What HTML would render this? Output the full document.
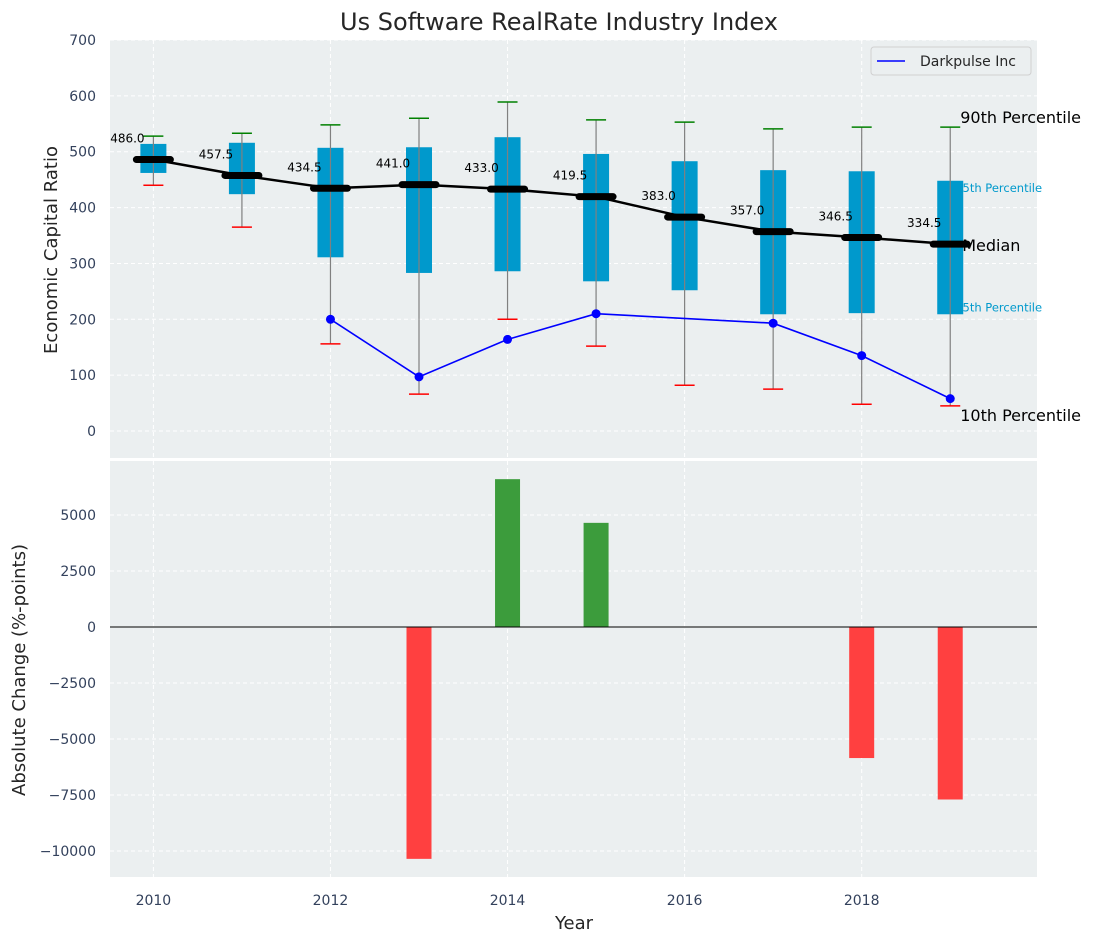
<!DOCTYPE html>
<html><head><meta charset="utf-8"><style>
body{margin:0;background:#fff;}
svg{display:block;font-family:"DejaVu Sans","Liberation Sans",sans-serif;}
</style></head><body>
<svg id="c" width="1095" height="942" xmlns="http://www.w3.org/2000/svg"></svg>
<script>
const years=[2010,2011,2012,2013,2014,2015,2016,2017,2018,2019];
const p10=[440,365,156,66,200,152,82,75,48,45];
const q25=[462,424,311,283,286,268,252,209,211,209];
const medians=[486.0,457.5,434.5,441.0,433.0,419.5,383.0,357.0,346.5,334.5];
const q75=[514,516,507,508,526,496,483,467,465,448];
const p90=[528,533,548,560,589,557,553,541,544,544];
const dpYears=[2012,2013,2014,2015,2017,2018,2019];
const dpValues=[200,97,164,210,193,135,58];
const changeYears=[2013,2014,2015,2018,2019];
const changeValues=[-10350,6600,4650,-5850,-7700];
const yTicksTop=[0,100,200,300,400,500,600,700];
const yTicksBot=[-10000,-7500,-5000,-2500,0,2500,5000];
const xTicks=[2010,2012,2014,2016,2018];

const NS="http://www.w3.org/2000/svg";
const svg=document.getElementById('c');
function el(t,a,p){const e=document.createElementNS(NS,t);for(const k in a)e.setAttribute(k,a[k]);(p||svg).appendChild(e);return e;}
const L=110,R=1037;
const X=v=>L+(v-2009.51)/(2019.98-2009.51)*(R-L);
const T0=40,T1=458,Yt=v=>T1-(v-(-48.3))/(700-(-48.3))*(T1-T0);
const B0=461,B1=877,Yb=v=>B1-(v-(-11160))/(7411+11160)*(B1-B0);

let t=el('text',{x:559,y:30,'text-anchor':'middle','font-size':24,fill:'#262626'});t.textContent='Us Software RealRate Industry Index';


let bg=el('rect',{x:L,y:T0,width:R-L,height:T1-T0,fill:'#ebeff0'});

let bg2=el('rect',{x:L,y:B0,width:R-L,height:B1-B0,fill:'#ebeff0'});


xTicks.forEach(v=>{
  [[T0,T1],[B0,B1]].forEach(([a,b])=>{let g=el('line',{x1:X(v),x2:X(v),y1:a,y2:b,stroke:'#fff','stroke-dasharray':'4,3','stroke-width':1});});
  let tx=el('text',{x:X(v),y:905,'text-anchor':'middle','font-size':14,fill:'#33415c'});tx.textContent=v;
  
});
yTicksTop.forEach(v=>{
  let g=el('line',{x1:L,x2:R,y1:Yt(v),y2:Yt(v),stroke:'#fff','stroke-dasharray':'4,3'});
  let tx=el('text',{x:96,y:Yt(v)+5,'text-anchor':'end','font-size':14,fill:'#33415c'});tx.textContent=v;
  
});
yTicksBot.forEach(v=>{
  let g=el('line',{x1:L,x2:R,y1:Yb(v),y2:Yb(v),stroke:'#fff','stroke-dasharray':'4,3'});
  let tx=el('text',{x:96,y:Yb(v)+5,'text-anchor':'end','font-size':14,fill:'#33415c'});tx.textContent=v<0?'\u2212'+(-v):v;
  
});

const li=years.length-1,lx=X(years[li]);
function lab(txt,x,y,size,col,name){let e=el('text',{x:x,y:y,'font-size':size,fill:col});e.textContent=txt;}
lab('90th Percentile',lx+10,Yt(p90[li])-4,16,'#000','label-90th');
lab('75th Percentile',lx+5,Yt(q75[li])+11,11.5,'#0099cc','label-75th');
lab('25th Percentile',lx+5,Yt(q25[li])-3,11.5,'#0099cc','label-25th');
lab('Median',lx+12,Yt(medians[li])+7,16,'#000','label-median');
lab('10th Percentile',lx+10,Yt(p10[li])+15,16,'#000','label-10th');

years.forEach((y,i)=>{
  const cx=X(y);
  let b=el('rect',{x:cx-13,y:Yt(q75[i]),width:26,height:Yt(q25[i])-Yt(q75[i]),fill:'#0099cc'});
  
  let w=el('line',{x1:cx,x2:cx,y1:Yt(p90[i]),y2:Yt(p10[i]),stroke:'#808080','stroke-width':1.2});
  
  let c1=el('line',{x1:cx-10,x2:cx+10,y1:Yt(p90[i]),y2:Yt(p90[i]),stroke:'green','stroke-width':1.5});
  
  let c2=el('line',{x1:cx-10,x2:cx+10,y1:Yt(p10[i]),y2:Yt(p10[i]),stroke:'red','stroke-width':1.5});
  
});
let mp=el('polyline',{points:years.map((y,i)=>X(y)+','+Yt(medians[i])).join(' '),fill:'none',stroke:'#000','stroke-width':2.5});

years.forEach((y,i)=>{
  const cx=X(y),cy=Yt(medians[i]);
  let m=el('line',{x1:cx-17,x2:cx+17,y1:cy,y2:cy,stroke:'#000','stroke-width':7,'stroke-linecap':'round'});
  
  let tx=el('text',{x:cx-26,y:cy-17,'text-anchor':'middle','font-size':12,fill:'#000'});tx.textContent=medians[i].toFixed(1);
  
});
let dl=el('polyline',{points:dpYears.map((y,i)=>X(y)+','+Yt(dpValues[i])).join(' '),fill:'none',stroke:'blue','stroke-width':1.6});

dpYears.forEach((y,i)=>{let p=el('circle',{cx:X(y),cy:Yt(dpValues[i]),r:4.5,fill:'blue'});});

let lg=el('g',{});
el('rect',{x:871,y:47,width:160,height:28,rx:3,fill:'#ebeff0',stroke:'#d0d0d0'},lg);
el('line',{x1:877,x2:905,y1:61,y2:61,stroke:'blue','stroke-width':1.6},lg);
let lt=el('text',{x:920,y:66,'font-size':14,fill:'#262626'},lg);lt.textContent='Darkpulse Inc';


changeYears.forEach((y,i)=>{
  const v=changeValues[i],y0=Yb(0),y1=Yb(v);
  let b=el('rect',{x:X(y)-12.5,y:Math.min(y0,y1),width:25,height:Math.abs(y1-y0),fill:v>=0?'#3c9c3c':'#ff4040'});
  
});
let z=el('line',{x1:L,x2:R,y1:Yb(0),y2:Yb(0),stroke:'#000','stroke-width':1});


let a1=el('text',{x:0,y:0,'text-anchor':'middle','font-size':18,fill:'#262626',transform:'translate(57,250) rotate(-90)'});a1.textContent='Economic Capital Ratio';

let a2=el('text',{x:0,y:0,'text-anchor':'middle','font-size':18,fill:'#262626',transform:'translate(25,670) rotate(-90)'});a2.textContent='Absolute Change (%-points)';

let a3=el('text',{x:574,y:929,'text-anchor':'middle','font-size':18,fill:'#262626'});a3.textContent='Year';

</script>
</body></html>
